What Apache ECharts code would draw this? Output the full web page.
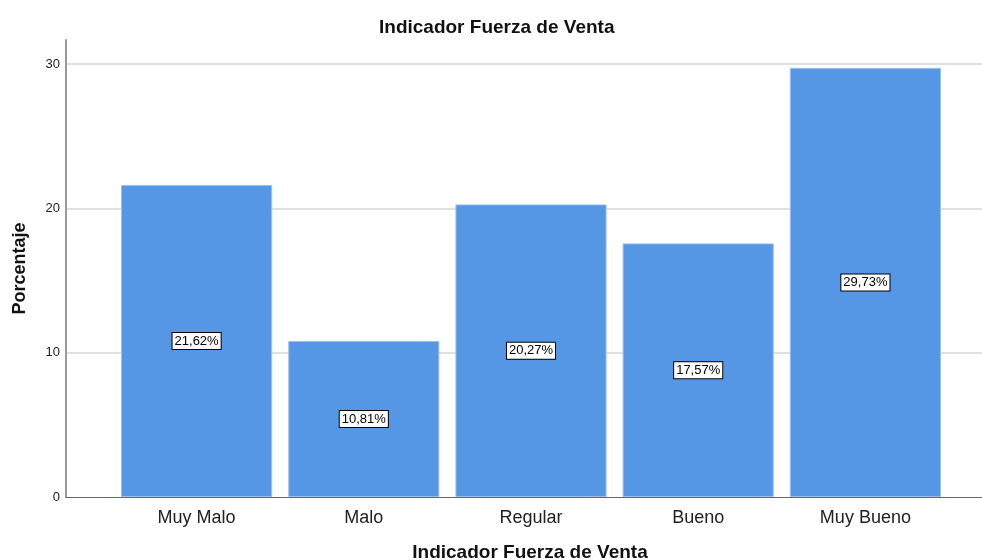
<!DOCTYPE html>
<html>
<head>
<meta charset="utf-8">
<script src="https://cdn.jsdelivr.net/npm/echarts@6/dist/echarts.min.js"></script>
<style>
  html, body { margin: 0; padding: 0; background: #fff; }
  #chart { width: 982px; height: 560px; }
</style>
</head>
<body>
<div id="chart"></div>
<script>
// Categories and percentage per category
const categories = ['Muy Malo', 'Malo', 'Regular', 'Bueno', 'Muy Bueno'];
const percentages = [21.62, 10.81, 20.27, 17.57, 29.73];
const yTicks = [0, 10, 20, 30];

const chartTitle = 'Indicador Fuerza de Venta';
const xTitle = 'Indicador Fuerza de Venta';
const yTitle = 'Porcentaje';

const FONT = '"Liberation Sans", Arial, sans-serif';
const Y_MAX = 31.66;

const chart = echarts.init(document.getElementById('chart'), null, { renderer: 'canvas' });

chart.setOption({
  animation: false,
  backgroundColor: '#ffffff',
  title: {
    text: chartTitle,
    left: 374,
    top: 13,
    textStyle: { fontFamily: FONT, fontSize: 19, fontWeight: 'bold', color: '#111' }
  },
  graphic: [
    {
      type: 'text',
      x: 530,
      y: 543,
      style: {
        text: xTitle,
        fontFamily: FONT, fontSize: 19, fontWeight: 'bold', fill: '#111',
        textAlign: 'center', textVerticalAlign: 'top'
      }
    },
    {
      type: 'text',
      x: 20,
      y: 268.5,
      rotation: Math.PI / 2,
      style: {
        text: yTitle,
        fontFamily: FONT, fontSize: 18, fontWeight: 'bold', fill: '#111',
        textAlign: 'center', textVerticalAlign: 'middle'
      }
    }
  ],
  grid: [
    // full-width frame: value axis, gridlines and baseline
    { left: 66, right: 0, top: 40, bottom: 63, containLabel: false, outerBoundsMode: 'none' },
    // bar area
    { left: 113, right: 33, top: 40, bottom: 63, containLabel: false, outerBoundsMode: 'none' }
  ],
  xAxis: [
    {
      gridIndex: 0,
      type: 'category',
      data: [''],
      axisLine: { show: true, lineStyle: { color: '#666', width: 1 } },
      axisTick: { show: false },
      axisLabel: { show: false }
    },
    {
      gridIndex: 1,
      type: 'category',
      data: categories,
      axisLine: { show: false },
      axisTick: { show: false },
      axisLabel: { fontFamily: FONT, fontSize: 18, color: '#222', margin: 12 }
    }
  ],
  yAxis: [
    {
      gridIndex: 0,
      type: 'value',
      min: 0,
      max: Y_MAX,
      interval: 10,
      axisLine: { show: true, lineStyle: { color: '#999', width: 2 } },
      axisTick: { show: false },
      axisLabel: {
        fontFamily: FONT, fontSize: 13, color: '#222', margin: 6,
        showMaxLabel: false,
        formatter: v => (yTicks.includes(v) ? String(v) : '')
      },
      splitLine: { show: true, showMaxLine: false, showMinLine: false, lineStyle: { color: '#d6d6d6', width: 1.5 } }
    },
    {
      gridIndex: 1,
      type: 'value',
      min: 0,
      max: Y_MAX,
      show: false,
      splitLine: { show: false }
    }
  ],
  series: [
    {
      type: 'bar',
      xAxisIndex: 1,
      yAxisIndex: 1,
      data: percentages,
      barCategoryGap: '9.6%',
      itemStyle: { color: '#5597e4', borderColor: '#9cc0ee', borderWidth: 1 },
      label: {
        show: true,
        position: 'inside',
        formatter: p => p.value.toFixed(2).replace('.', ',') + '%',
        fontFamily: FONT,
        fontSize: 13,
        color: '#000',
        backgroundColor: '#fff',
        borderColor: '#000',
        borderWidth: 1,
        padding: [2, 2, 1, 2]
      },
      z: 3
    }
  ]
});
</script>
</body>
</html>
